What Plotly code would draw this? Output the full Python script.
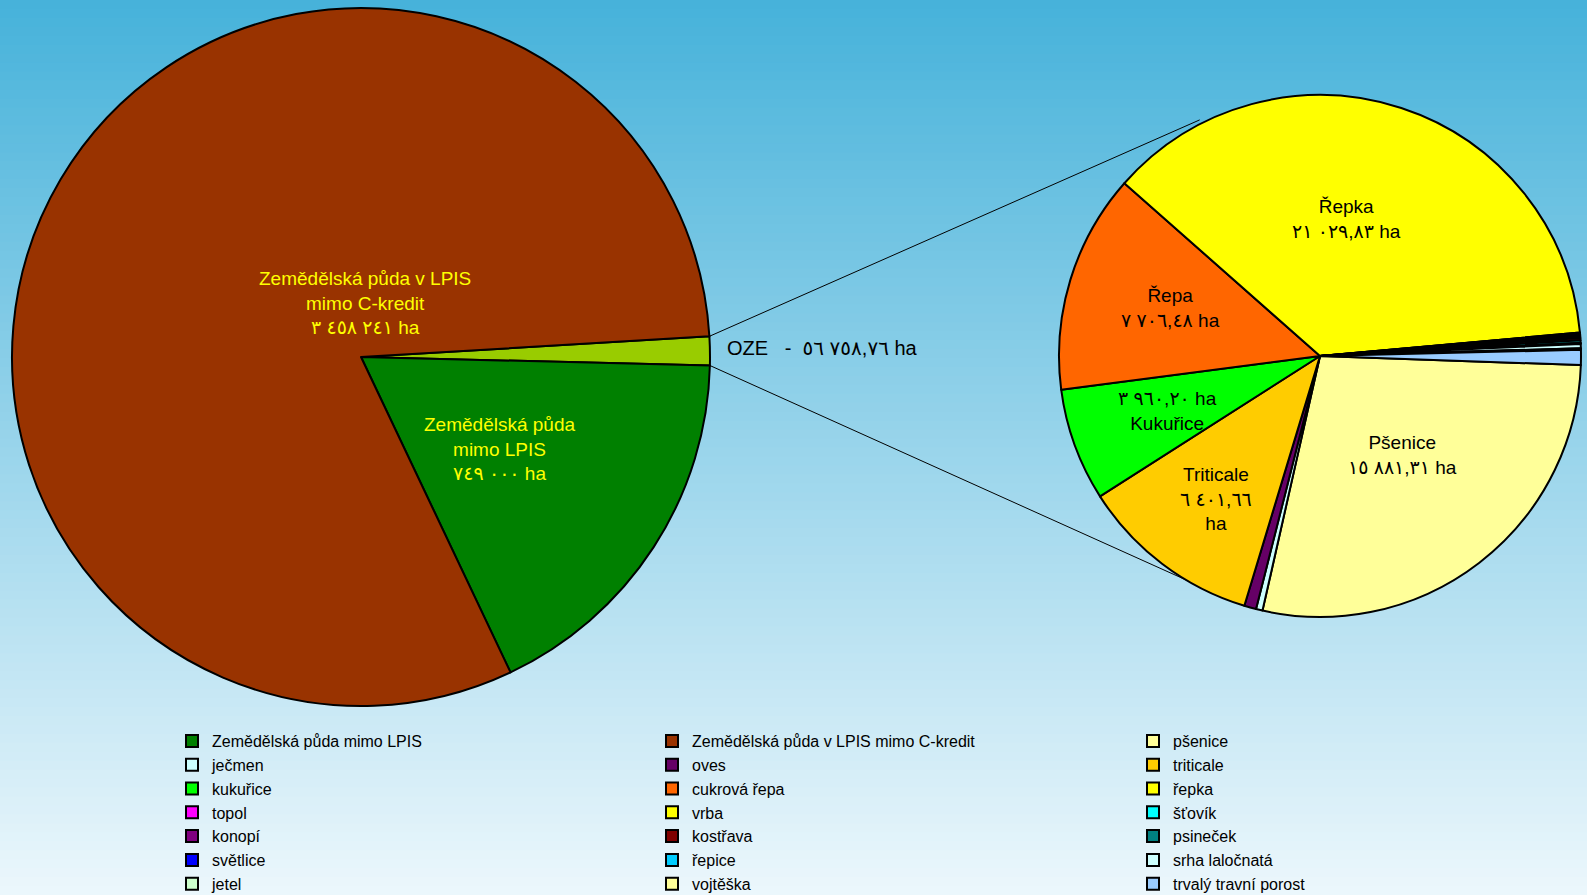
import math
import plotly.graph_objects as go

W, H = 1587, 895

# ---------------- data ----------------
main_labels = ["Zemědělská půda mimo LPIS", "Zemědělská půda v LPIS mimo C-kredit"]
main_values = [749000, 3458241]
main_colors = ["#008000", "#993300"]

oze_name = "OZE"
oze_color = "#99CC00"

crop_labels = ["pšenice", "ječmen", "oves", "triticale", "kukuřice", "cukrová řepa", "řepka",
               "topol", "vrba", "šťovík", "konopí", "kostřava", "psineček", "světlice",
               "řepice", "srha laločnatá", "jetel", "vojtěška", "trvalý travní porost"]
crop_values = [15881.31, 230, 420, 6401.66, 3960.20, 7706.48, 21029.83,
               15, 60, 45, 70, 80, 90, 10,
               25, 150, 20, 35, 529.28]
crop_colors = ["#FFFF99", "#CCFFFF", "#660066", "#FFCC00", "#00FF00", "#FF6600", "#FFFF00",
               "#FF00FF", "#FFFF00", "#00FFFF", "#800080", "#800000", "#008080", "#0000FF",
               "#00CCFF", "#CCFFFF", "#CCFFCC", "#FFFF99", "#99CCFF"]

# labels shown inside the slices
big_crop_names = {"pšenice": "Pšenice", "triticale": "Triticale", "kukuřice": "Kukuřice",
                  "cukrová řepa": "Řepa", "řepka": "Řepka"}

oze_total = sum(crop_values)
grand_total = oze_total + sum(main_values)

AR = str.maketrans("0123456789", "٠١٢٣٤٥٦٧٨٩")
NB = "\u00a0"


def fmt(v, dec):
    s = f"{v:,.{dec}f}"
    s = s.replace(",", NB).replace(".", ",")
    return s.translate(AR)


FONT = "Liberation Sans, Arial, DejaVu Sans, sans-serif"

# ---------------- geometry (pixels) ----------------
L_CX, L_CY, L_R = 361, 357, 349
R_CX, R_CY, R_R = 1320, 356, 261


def dom(cx, cy, r):
    return dict(x=[(cx - r) / W, (cx + r) / W], y=[1 - (cy + r) / H, 1 - (cy - r) / H])


oze_deg = 360 * oze_total / grand_total
left_rot = 89 - oze_deg / 2
right_rot = 92

fig = go.Figure()

# legend: three columns, entries taken row by row from the full series list
all_labels = main_labels + crop_labels
all_values = main_values + crop_values
all_colors = main_colors + crop_colors
legend_ids = ["legend", "legend2", "legend3"]
for c in range(3):
    fig.add_trace(go.Pie(
        labels=all_labels[c::3], values=all_values[c::3], sort=False,
        domain=dom(L_CX, L_CY, L_R - 4),
        marker=dict(colors=all_colors[c::3], line=dict(color="black", width=2)),
        textinfo="none", hoverinfo="skip", showlegend=True, legend=legend_ids[c]))

# main pie
fig.add_trace(go.Pie(
    labels=[oze_name] + main_labels, values=[oze_total] + main_values,
    sort=False, direction="clockwise", rotation=left_rot,
    domain=dom(L_CX, L_CY, L_R),
    marker=dict(colors=[oze_color] + main_colors, line=dict(color="black", width=2)),
    textinfo="none", showlegend=False))

# OZE breakdown pie
fig.add_trace(go.Pie(
    labels=crop_labels, values=crop_values, sort=False, direction="clockwise",
    rotation=right_rot, domain=dom(R_CX, R_CY, R_R),
    marker=dict(colors=crop_colors, line=dict(color="black", width=2)),
    textinfo="none", showlegend=False))

# ---------------- background gradient ----------------
shapes = []
top = (70, 178, 218)
bot = (236, 247, 252)
n = 100
for i in range(n):
    t = (i + 0.5) / n
    c = tuple(round(top[k] + (bot[k] - top[k]) * t) for k in range(3))
    shapes.append(dict(type="rect", xref="paper", yref="paper", x0=0, x1=1,
                       y0=1 - (i + 1) / n - 0.002, y1=1 - i / n,
                       fillcolor=f"rgb{c}", line=dict(width=0), layer="below"))

# ---------------- connector lines ----------------
def pt(cx, cy, r, compass_deg):
    a = math.radians(compass_deg)
    return cx + r * math.sin(a), cy - r * math.cos(a)


p1 = pt(L_CX, L_CY, L_R, left_rot)
p2 = pt(L_CX, L_CY, L_R, left_rot + oze_deg)
q1 = pt(R_CX, R_CY, R_R + 4, 333)
q2 = pt(R_CX, R_CY, R_R, 197.5)
for a, b in ((p1, q1), (p2, q2)):
    shapes.append(dict(type="line", xref="paper", yref="paper",
                       x0=a[0] / W, y0=1 - a[1] / H, x1=b[0] / W, y1=1 - b[1] / H,
                       line=dict(color="black", width=1), layer="below"))

# ---------------- slice labels ----------------
ann = []


def add(text, x, y, color="black", size=19, xanchor="center"):
    ann.append(dict(text=text, x=x / W, y=1 - y / H, xref="paper", yref="paper",
                    showarrow=False, xanchor=xanchor, yanchor="middle", align="center",
                    font=dict(family=FONT, size=size, color=color)))


add("Zemědělská půda v LPIS<br>mimo C-kredit<br>" + fmt(main_values[1], 0) + " ha",
    365, 303, color="#FFFF00", size=19)
add("Zemědělská půda<br>mimo LPIS<br>" + fmt(main_values[0], 0) + " ha",
    499, 449, color="#FFFF00", size=19)
add(oze_name + NB * 3 + "-" + NB + NB + fmt(oze_total, 2) + NB + "ha", 725, 348,
    size=20, xanchor="left")

vals = dict(zip(crop_labels, crop_values))
add(big_crop_names["řepka"] + "<br>" + fmt(vals["řepka"], 2) + " ha", 1346, 219)
add(big_crop_names["cukrová řepa"] + "<br>" + fmt(vals["cukrová řepa"], 2) + " ha", 1170, 308)
add(fmt(vals["kukuřice"], 2) + " ha<br>" + big_crop_names["kukuřice"], 1167, 411)
add(big_crop_names["triticale"] + "<br>" + fmt(vals["triticale"], 2) + "<br>ha", 1216, 499)
add(big_crop_names["pšenice"] + "<br>" + fmt(vals["pšenice"], 2) + " ha", 1402, 455)

legend_style = dict(orientation="v", xanchor="left", yanchor="top", y=1 - 724 / H,
                    traceorder="normal", bgcolor="rgba(0,0,0,0)",
                    font=dict(family=FONT, size=16, color="black"),
                    itemclick=False, itemdoubleclick=False)
col_text_x = [212, 692, 1173]  # left edge of legend text in each column

fig.update_layout(
    width=W, height=H,
    margin=dict(l=0, r=0, t=0, b=0, autoexpand=False),
    paper_bgcolor="rgb(236,247,252)",
    plot_bgcolor="rgba(0,0,0,0)",
    shapes=shapes,
    annotations=ann,
    font=dict(family=FONT, color="black"),
    legend=dict(legend_style, x=(col_text_x[0] - 40) / W),
    legend2=dict(legend_style, x=(col_text_x[1] - 40) / W),
    legend3=dict(legend_style, x=(col_text_x[2] - 40) / W),
)

fig.write_html("out.html", config={"displayModeBar": False},
               post_script="document.body.style.margin='0';document.body.style.overflow='hidden';")
